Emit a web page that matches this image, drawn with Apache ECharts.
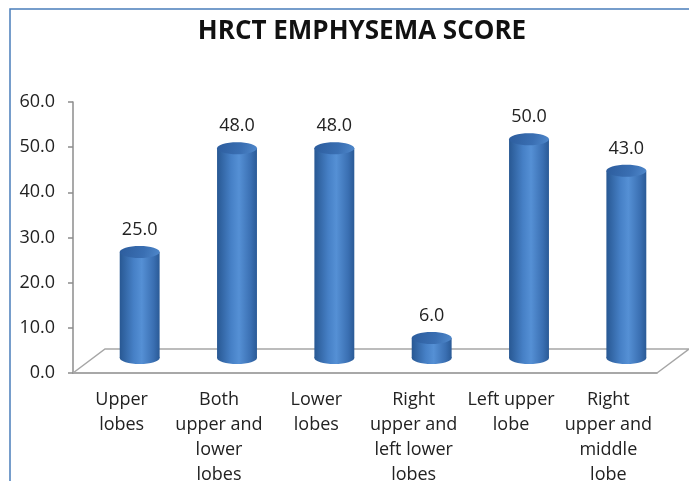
<!DOCTYPE html>
<html>
<head>
<meta charset="utf-8">
<script src="https://cdn.jsdelivr.net/npm/echarts@6/dist/echarts.min.js"></script>
<style>
html, body { margin: 0; padding: 0; background: #fff; }
#main { width: 689px; height: 481px; }
</style>
</head>
<body>
<div id="main"></div>
<script>
// data
var categories = ['Upper\nlobes', 'Both\nupper and\nlower\nlobes', 'Lower\nlobes',
	'Right\nupper and\nleft lower\nlobes', 'Left upper\nlobe', 'Right\nupper and\nmiddle\nlobe'];
var scores = [25.0, 48.0, 48.0, 6.0, 50.0, 43.0];
var yMin = 0, yMax = 60, yStep = 10;

var FONT = '"Open Sans", "Noto Sans", sans-serif';
var DEPTH_X = 32, DEPTH_Y = 24;

function bodyGrad() {
	return new echarts.graphic.LinearGradient(0, 0, 1, 0, [
		{offset: 0, color: '#285893'},
		{offset: 0.35, color: '#4680c6'},
		{offset: 0.55, color: '#5590d5'},
		{offset: 0.85, color: '#3a6fb2'},
		{offset: 1, color: '#2a5a96'}
	]);
}

function renderFloor(params, api) {
	var cs = params.coordSys;
	var x0 = cs.x, x1 = cs.x + cs.width, y0 = cs.y + cs.height;
	return {
		type: 'polyline',
		shape: {points: [[x0, y0], [x0 + DEPTH_X, y0 - DEPTH_Y], [x1 + DEPTH_X, y0 - DEPTH_Y], [x1, y0]]},
		style: {stroke: '#a6a6a6', lineWidth: 1.5, fill: null},
		z2: 0
	};
}

function renderCylinder(params, api) {
	var i = api.value(0), v = api.value(1);
	var top = api.coord([i, v]);
	var base = api.coord([i, 0]);
	var bw = api.size([1, 0])[0];
	var rx = bw * 0.205, ry = 6;
	var cx = top[0] + bw * 0.185;
	var ty = top[1] - 8, by = base[1] - 15;
	return {
		type: 'group',
		children: [
			{type: 'rect', shape: {x: cx - rx, y: ty, width: rx * 2, height: by - ty}, style: {fill: bodyGrad()}},
			{type: 'ellipse', shape: {cx: cx, cy: by, rx: rx, ry: ry}, style: {fill: bodyGrad()}},
			{type: 'ellipse', shape: {cx: cx, cy: ty, rx: rx, ry: ry},
				style: {fill: new echarts.graphic.LinearGradient(0, 0, 1, 1, [
					{offset: 0, color: '#2c5c9c'},
					{offset: 0.6, color: '#3a6fb3'},
					{offset: 1, color: '#5089cc'}
				])}},
			{type: 'text', style: {text: v.toFixed(1), x: cx, y: ty - ry - 16, align: 'center', verticalAlign: 'middle',
				font: '18px ' + FONT, fill: '#222'}}
		]
	};
}

var myChart = echarts.init(document.getElementById('main'), null, {renderer: 'canvas'});
var option = {
	backgroundColor: '#fff',
	animation: false,
	title: {
		text: 'HRCT EMPHYSEMA SCORE',
		left: 357,
		top: 14,
		textAlign: 'center',
		textStyle: {fontFamily: FONT, fontWeight: 'bold', fontSize: 26, color: '#111'}
	},
	graphic: [
		{type: 'polyline', shape: {points: [[10, 481], [10, 9], [689, 9]]}, style: {stroke: '#4a7ebb', lineWidth: 1.5, fill: null}}
	],
	grid: {left: 73, right: 32, top: 102, bottom: 108, outerBoundsMode: 'none'},
	xAxis: {
		type: 'category',
		data: categories,
		axisLine: {lineStyle: {color: '#8c8c8c', width: 1.5}},
		axisTick: {length: 5, lineStyle: {color: '#8c8c8c', width: 1.5}},
		axisLabel: {interval: 0, margin: 14, fontFamily: FONT, fontSize: 18, lineHeight: 25, color: '#222'}
	},
	yAxis: {
		type: 'value',
		min: yMin, max: yMax, interval: yStep,
		axisLine: {show: true, lineStyle: {color: '#8c8c8c', width: 1.5}},
		axisTick: {show: true, length: 5, lineStyle: {color: '#8c8c8c', width: 1.5}},
		splitLine: {show: false},
		axisLabel: {margin: 18, fontFamily: FONT, fontSize: 18, color: '#222',
			formatter: function (val) { return val.toFixed(1); }}
	},
	series: [
		{type: 'custom', name: 'floor', renderItem: renderFloor, data: [[0, 0]], z: 1, silent: true},
		{type: 'custom', name: 'score', renderItem: renderCylinder,
			data: scores.map(function (s, i) { return [i, s]; }), z: 2}
	]
};
myChart.setOption(option);
window.onresize = myChart.resize;
</script>
</body>
</html>
